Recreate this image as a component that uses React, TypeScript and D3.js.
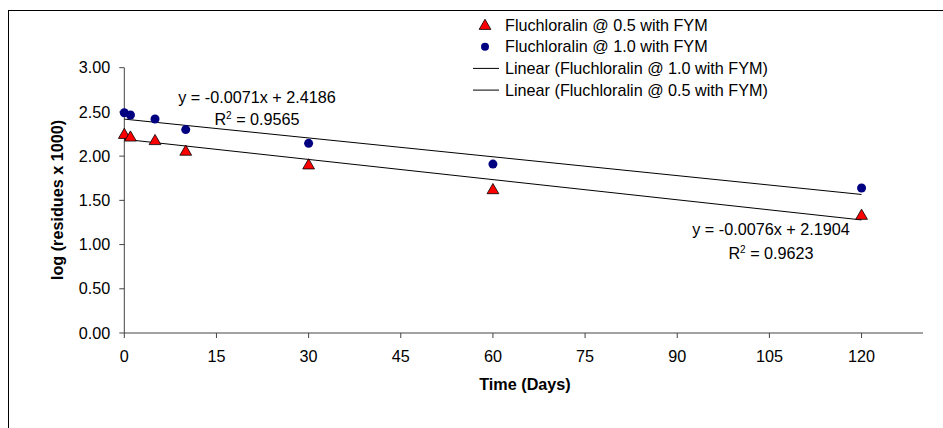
import React from "react";
import * as d3 from "d3";

const days = [0, 1, 5, 10, 30, 60, 120];
const seriesHigh = [2.49, 2.465, 2.42, 2.3, 2.145, 1.91, 1.64]; // @ 1.0
const seriesLow = [2.25, 2.22, 2.18, 2.06, 1.905, 1.625, 1.335]; // @ 0.5
const xTicks = [0, 15, 30, 45, 60, 75, 90, 105, 120];
const yTicks = [0, 0.5, 1, 1.5, 2, 2.5, 3];
const trendHigh = { slope: -0.0071, intercept: 2.4186, r2: "0.9565" };
const trendLow = { slope: -0.0076, intercept: 2.1904, r2: "0.9623" };
const legendLabels = [
  "Fluchloralin @ 0.5 with FYM",
  "Fluchloralin @ 1.0 with FYM",
  "Linear (Fluchloralin @ 1.0 with FYM)",
  "Linear (Fluchloralin @ 0.5 with FYM)",
];

const W = 943;
const H = 428;
const FONT = "'Liberation Sans', Arial, sans-serif";
const FS = 16.2;

export default function App() {
  const x = d3.scaleLinear().domain([0, 130]).range([124.3, 923]);
  const y = d3.scaleLinear().domain([0, 3]).range([333, 67.7]);
  const tri = d3.symbol().type(d3.symbolTriangle).size(60)();
  const trendPath = (t: { slope: number; intercept: number }) =>
    d3.line<number>().x((d) => x(d)).y((d) => y(t.slope * d + t.intercept))([0, 120]);

  return (
    <svg
      width={W}
      height={H}
      style={{ position: "absolute", left: 0, top: 0 }}
      fontFamily={FONT}
    >
      <rect x={0} y={0} width={W} height={H} fill="#fff" />
      <rect x={8.5} y={10.5} width={W + 20} height={H + 20} fill="none" stroke="#000" strokeWidth={1} />

      {/* axes */}
      <line x1={x(0)} x2={x(0)} y1={y(3)} y2={y(0)} stroke="#444" />
      <line x1={x(0)} x2={x(130)} y1={y(0)} y2={y(0)} stroke="#444" />
      {yTicks.map((t) => (
        <g key={"y" + t}>
          <line x1={x(0) - 5} x2={x(0)} y1={y(t)} y2={y(t)} stroke="#444" />
          <text x={x(0) - 14} y={y(t)} dy="0.35em" textAnchor="end" fontSize={FS} fill="#000">
            {d3.format(".2f")(t)}
          </text>
        </g>
      ))}
      {xTicks.map((t) => (
        <g key={"x" + t}>
          <line x1={x(t)} x2={x(t)} y1={y(0)} y2={y(0) + 5} stroke="#444" />
          <text x={x(t)} y={356} dy="0.35em" textAnchor="middle" fontSize={FS} fill="#000">
            {t}
          </text>
        </g>
      ))}
      <text
        transform={`translate(57,200) rotate(-90)`}
        textAnchor="middle"
        dy="0.35em"
        fontSize={FS}
        fontWeight="bold"
      >
        log (residues x 1000)
      </text>
      <text x={525} y={384} dy="0.35em" textAnchor="middle" fontSize={FS} fontWeight="bold">
        Time (Days)
      </text>

      {/* trend lines */}
      <path d={trendPath(trendHigh) || ""} stroke="#000" strokeWidth={1} fill="none" />
      <path d={trendPath(trendLow) || ""} stroke="#000" strokeWidth={1} fill="none" />

      {/* points */}
      {days.map((d, i) => (
        <circle key={"h" + i} cx={x(d)} cy={y(seriesHigh[i])} r={4.5} fill="#000080" />
      ))}
      {days.map((d, i) => (
        <path
          key={"l" + i}
          d={tri || ""}
          transform={`translate(${x(d)},${y(seriesLow[i]) + 1})`}
          fill="#ff0000"
          stroke="#000"
          strokeWidth={0.8}
        />
      ))}

      {/* equations */}
      <text x={257} y={97} dy="0.35em" textAnchor="middle" fontSize={FS}>
        y = -0.0071x + 2.4186
      </text>
      <text x={257} y={119} dy="0.35em" textAnchor="middle" fontSize={FS}>
        R<tspan dy="-6" fontSize={10}>2</tspan>
        <tspan dy="6"> = {trendHigh.r2}</tspan>
      </text>
      <text x={771} y={229} dy="0.35em" textAnchor="middle" fontSize={FS}>
        y = -0.0076x + 2.1904
      </text>
      <text x={771} y={253} dy="0.35em" textAnchor="middle" fontSize={FS}>
        R<tspan dy="-6" fontSize={10}>2</tspan>
        <tspan dy="6"> = {trendLow.r2}</tspan>
      </text>

      {/* legend */}
      {legendLabels.map((lab, i) => {
        const ly = 25 + i * 21.7;
        return (
          <g key={"lg" + i}>
            {i === 0 && (
              <path d={tri || ""} transform={`translate(485,${ly + 1})`} fill="#ff0000" stroke="#000" strokeWidth={0.8} />
            )}
            {i === 1 && <circle cx={485} cy={ly} r={4} fill="#000080" />}
            {i >= 2 && <line x1={473} x2={499} y1={ly} y2={ly} stroke="#000" />}
            <text x={505} y={ly} dy="0.35em" fontSize={FS}>
              {lab}
            </text>
          </g>
        );
      })}
    </svg>
  );
}
